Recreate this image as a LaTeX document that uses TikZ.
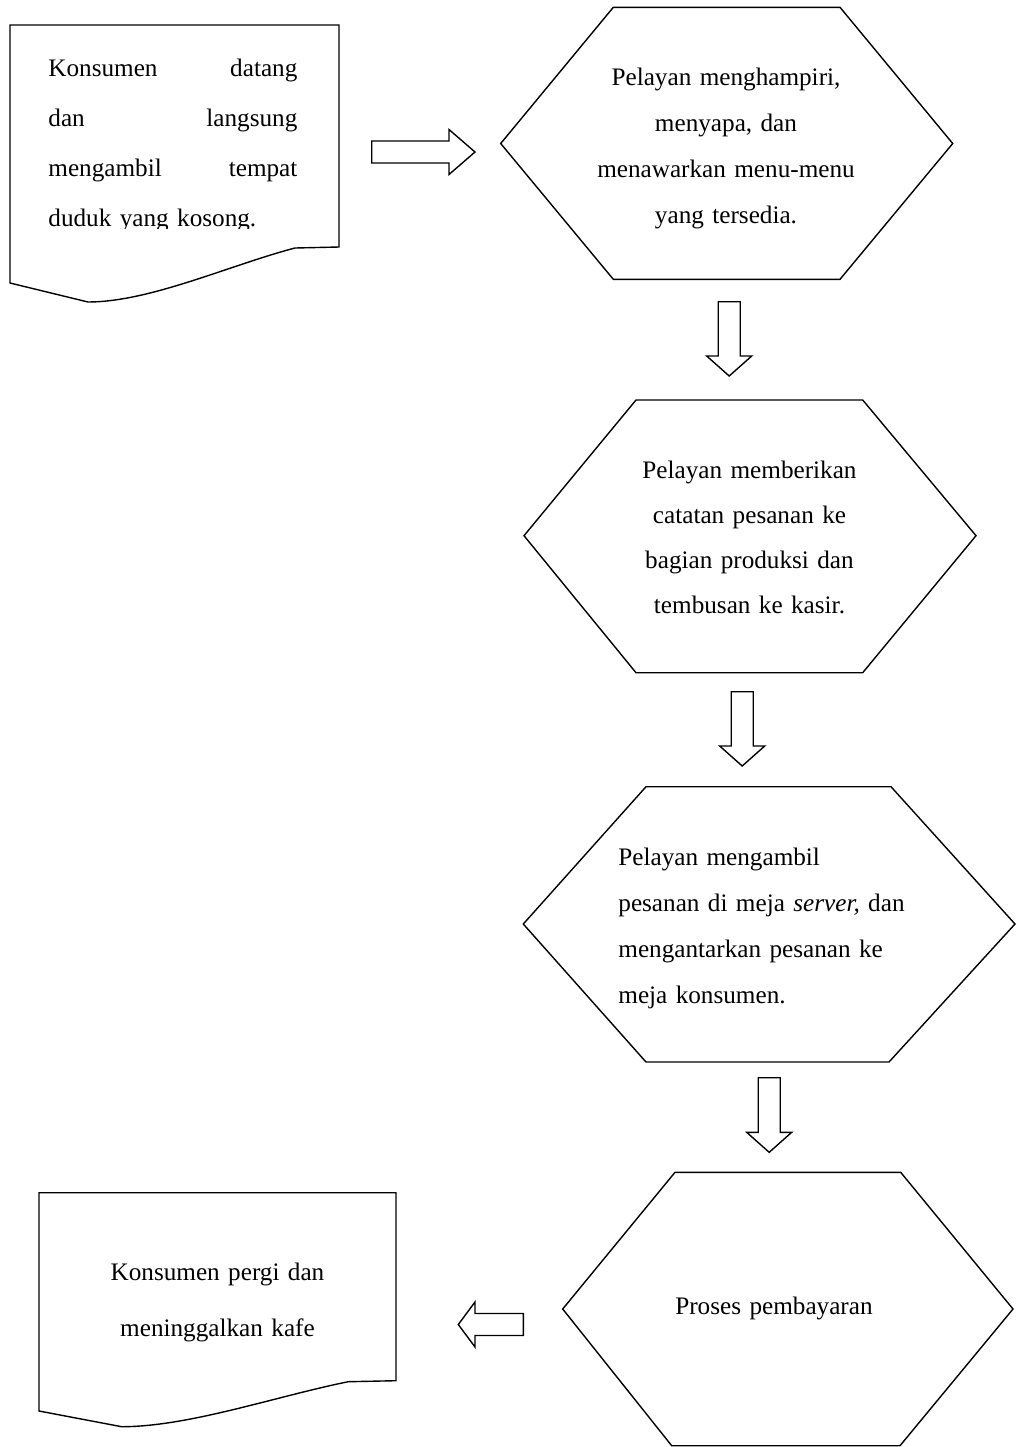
\documentclass[tikz,border=0pt]{standalone}
\usepackage{fontspec}
\setmainfont{Liberation Serif}

\tikzset{
  shapeline/.style={line width=0.7pt, line join=miter},
  steptext/.style={font=\fontsize{12.6}{23}\selectfont, inner sep=0pt,
    anchor=base, align=center, text width=150pt},
  head len/.store in=\headlen, head len=20,
  % block arrow pointing along +x, tail centre at the origin
  fatarrow/.pic={
    \draw[shapeline] (0,-11) -- ({#1-\headlen},-11) -- ({#1-\headlen},-22.5)
      -- (#1,0) -- ({#1-\headlen},22.5) -- ({#1-\headlen},11) -- (0,11) -- cycle;
  }
}

\begin{document}
\begin{tikzpicture}[x=0.5pt, y=-0.5pt]
    \useasboundingbox (0,0) rectangle (1018,1447);

    % the document shape top left
    \draw[shapeline] (10,25) -- (339,25) -- (339,247) -- (295,248)
      .. controls (230,265) and (150,302) .. (88,302) -- (10,283) -- cycle;
    % its text, cut off at the bottom
    \begin{scope}
      \clip (0,0) rectangle (1018,228.5);
      \node[steptext, anchor=base west, align=left, text width=124.5pt,
        font=\fontsize{12.6}{25}\selectfont] (arrive) at (48,76)
        {Konsumen\hfill datang\\dan\hfill langsung\\mengambil\hfill tempat\\duduk yang kosong.};
    \end{scope}

    % arrow to the first hexagon
    \pic[head len=26] at (371.7,152) {fatarrow=103.3};

    % the first hexagon
    \draw[shapeline] (500.7,143.5) -- (613.3,7.3) -- (840,7.3) -- (952.7,143.5)
      -- (840,279.3) -- (613.3,279.3) -- cycle;
    \node[steptext] (greet) at (726,85)
      {Pelayan menghampiri,\\menyapa, dan\\menawarkan menu-menu\\yang tersedia.};

    % arrow down to the second hexagon
    \pic[rotate=-90] at (729.2,301.7) {fatarrow=74.3};

    % the second hexagon
    \draw[shapeline] (524,535.7) -- (636,400) -- (862.7,400) -- (976,535.7)
      -- (862.7,672.7) -- (636,672.7) -- cycle;
    \node[steptext, font=\fontsize{12.6}{22.5}\selectfont] (order) at (749.5,478)
      {Pelayan memberikan\\catatan pesanan ke\\bagian produksi dan\\tembusan ke kasir.};

    % arrow down to the third hexagon
    \pic[rotate=-90] at (742.2,691.7) {fatarrow=74.3};

    % the third hexagon
    \draw[shapeline] (523.3,924) -- (646,786.7) -- (891,786.7) -- (1015,924)
      -- (889,1062) -- (646,1062) -- cycle;
    \node[steptext, anchor=base west, align=left] (serve) at (618,865.7)
      {Pelayan mengambil\\pesanan di meja \textit{server,} dan\\mengantarkan pesanan ke\\meja konsumen.};

    % arrow down to the last hexagon
    \pic[rotate=-90] at (769.2,1077.7) {fatarrow=74.6};

    % the last hexagon
    \draw[shapeline] (562.7,1309) -- (675,1172.3) -- (900.7,1172.3) -- (1013,1309)
      -- (900,1445.7) -- (671.7,1445.7) -- cycle;
    \node[steptext] (pay) at (774,1314) {Proses pembayaran};

    % arrow back to the left document
    \pic[rotate=180, head len=16.7] at (523.3,1324.5) {fatarrow=65};

    % the document shape bottom left
    \draw[shapeline] (39,1192.7) -- (396,1192.7) -- (396,1380.7) -- (348.3,1381.7)
      .. controls (277,1396) and (189,1426.7) .. (121.7,1426.7) -- (39,1411) -- cycle;
    \node[steptext, font=\fontsize{12.6}{28.3}\selectfont] (leave) at (217.5,1280)
      {Konsumen pergi dan\\meninggalkan kafe};
\end{tikzpicture}
\end{document}
